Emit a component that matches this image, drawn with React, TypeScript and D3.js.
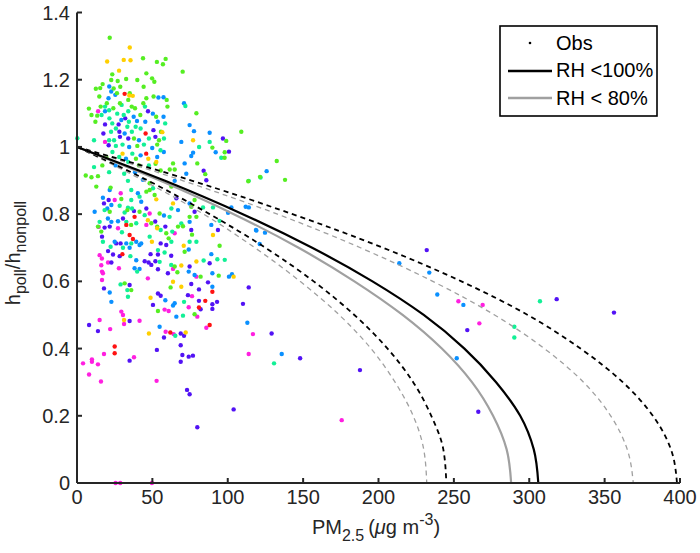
import React from "react";
import * as d3 from "d3";

// ---------- data ----------
const xTicks = [0, 50, 100, 150, 200, 250, 300, 350, 400];
const yTicks = [0, 0.2, 0.4, 0.6, 0.8, 1, 1.2, 1.4];

// observations grouped by colour, [PM2.5, h_poll/h_nonpoll]
const obsMagenta: number[][] = [
  [14,1.106],[18.6,1.015],[29,0.862],[25,0.842],[48.2,0.802],[27.2,0.758],[46,0.768],[15,0.678],[16.5,0.668],[16.1,0.648],
  [20.6,0.656],[27.8,0.639],[16.6,0.629],[17.2,0.624],[16.6,0.604],[47,0.609],[29.4,0.51],[30.5,0.5],[58.1,0.516],[60.8,0.512],
  [31.2,0.473],[41.5,0.483],[15,0.485],[22,0.458],[14.4,0.762],[58.8,0.45],[17.9,0.384],[9.9,0.368],[9.9,0.361],[4,0.356],
  [13.9,0.353],[37.8,0.374],[8,0.323],[15.9,0.302],[52.8,0.304],[25.6,0],[28.7,0],[49.7,0],[64.8,0.743],[63.7,0.637],
  [79.2,0.614],[76.3,0.556],[74.1,0.523],[79.8,0.495],[85.8,0.462],[64.1,0.443],[116.7,0.443],[113.9,0.384],[175.6,0.187],
  [253,0.541],[269.1,0.53],[266.9,0.475],
];
const obsPurple: number[][] = [
  [47.1,1.106],[32,1.085],[18.6,1.067],[27.6,1.067],[17.5,1.04],[28.1,1.045],[50.7,1.05],[28.5,1.03],[34,1.025],[52,1.03],[21,1.005],
  [21,0.842],[17.9,0.832],[46,0.817],[37.8,0.809],[30.5,0.787],[51.9,0.778],[21.7,0.763],[18.3,0.76],[58.6,0.763],[16.6,0.733],
  [26,0.713],[28.9,0.713],[55.5,0.713],[59.2,0.708],[20.6,0.69],[23.9,0.68],[28.3,0.675],[48.8,0.681],[53.7,0.68],[62.5,0.676],
  [22.8,0.656],[44.9,0.66],[47.5,0.656],[52,0.66],[49.3,0.649],[53.7,0.636],[60.3,0.624],[17.9,0.579],[34.9,0.589],[53.7,0.564],
  [55.5,0.557],[50.4,0.53],[34.9,0.482],[8,0.47],[13.9,0.452],[57.7,0.433],[34.9,0.364],[53,0.396],
  [96.8,1.025],[84,0.929],[85.8,0.901],[65.9,0.847],[78,0.807],[75.8,0.753],[93.5,0.753],[100.8,0.986],
  [74.7,0.644],[88,0.654],[75.8,0.592],[86.9,0.597],[80.9,0.576],[113.9,0.582],[73.6,0.559],[80.9,0.542],[92.9,0.539],[89.8,0.532],
  [82,0.517],[89.8,0.518],[110.1,0.533],[68.8,0.445],[71,0.438],[68.8,0.41],[69.9,0.381],[74.1,0.376],[76.9,0.379],[68.8,0.361],
  [73,0.277],[74.7,0.264],[103.9,0.219],[79.8,0.166],[148,0.371],[129.1,0.445],[232,0.693],[258.9,0.455],[318.2,0.547],
  [356.2,0.507],[187.7,0.336],[266.2,0.212],
];
const obsBlue: number[][] = [
  [21.4,1.18],[22.7,1.165],[25.4,1.155],[54,1.147],[57.4,1.148],[20.9,1.145],[18.6,1.106],[50.3,1.099],[37.6,1.09],[29.4,1.08],
  [39.8,1.077],[45.3,1.075],[53.6,1.075],[57.4,1.09],[31.6,1.04],[41.1,1.02],[34.6,1.0],[49.9,0.997],[57.6,0.985],[42.2,0.975],
  [32.5,0.965],[53.2,0.97],[25.6,0.945],[38.5,0.925],[43.7,0.902],[21.7,0.872],[40.4,0.862],[17.2,0.849],[42.6,0.837],[22.8,0.827],
  [11.7,0.807],[20.1,0.817],[57.7,0.796],[20.5,0.787],[22.8,0.777],[27.2,0.779],[25,0.718],[32.7,0.713],[39.3,0.718],[41.5,0.708],
  [42.6,0.713],[34.9,0.7],[39.3,0.663],[38.2,0.639],[41.5,0.637],[21.7,0.567],[22.8,0.539],[58.6,0.544],[54.8,0.465],
  [71,1.13],[74.7,1.065],[77.6,1.047],[88,1.042],[69.2,1.015],[77,0.983],[75.8,0.973],[92,0.984],[71.4,0.951],[72.5,0.92],
  [64.8,0.899],[67,0.812],[74.7,0.832],[74.7,0.777],[89.1,0.768],[100.2,0.804],[111.9,0.822],[102.4,0.82],[114,0.82],[74.1,0.695],
  [89.1,0.681],[119,0.751],[121.2,0.711],[74.1,0.629],[78,0.619],[89.8,0.624],[100.8,0.614],[102.8,0.621],[89.8,0.584],[64.8,0.535],
  [63.7,0.528],[65.9,0.495],[113,0.477],[135.8,0.384],[125.8,0.928],[118.7,0.753],[124.7,0.745],[213.8,0.654],[233.7,0.626],
  [239,0.561],[256.3,0.53],[251.9,0.371],
];
const obsCyan: number[][] = [
  [18.6,1.12],[29.6,1.125],[45.1,1.12],[21.3,1.109],[34,1.106],[16.3,1.095],[26.7,1.099],[31,1.095],[21.5,1.085],[23.4,1.07],
  [34.4,1.075],[58.5,1.07],[25.8,1.055],[33.4,1.06],[38.9,1.06],[42.2,1.055],[22.6,1.045],[36.4,1.045],[11.3,1.02],[21.3,1.02],
  [24.6,1.02],[47.7,1.025],[57.7,1.025],[25.8,1.003],[30.2,1.007],[44.4,1.007],[55.4,0.99],[23.5,0.985],[36.7,0.98],[28,0.97],
  [11.3,0.94],[34,0.955],[47.7,0.945],[21.3,0.925],[31.3,0.92],[0.2,1.026],[33.8,0.899],[50.4,0.877],[36,0.872],[41.5,0.852],
  [36,0.842],[28.3,0.825],[33.8,0.819],[36.5,0.817],[18.3,0.812],[31.6,0.805],[44.9,0.797],[61.4,0.792],[15,0.777],[32.7,0.777],
  [39.3,0.773],[55.5,0.753],[29.8,0.746],[48.2,0.733],[17.2,0.718],[36,0.713],[22.3,0.703],[30.5,0.7],[53.7,0.693],[35.4,0.675],
  [58.1,0.686],[54.8,0.658],[62.5,0.649],[39.9,0.629],[28.9,0.591],[33.4,0.574],[33.8,0.554],
  [71.9,1.122],[88,1.015],[81,1.0],[95.7,0.968],[113.9,0.899],[121.8,0.909],[62.6,0.817],[83.6,0.82],[69.2,0.772],[63.2,0.748],
  [94.6,0.78],[90.2,0.82],[62.6,0.718],[74.7,0.718],[79.2,0.718],[84,0.662],[93.1,0.666],[98,0.664],[71,0.539],[70.3,0.498],
  [65.2,0.438],[130.7,0.356],[307.1,0.541],[290.1,0.465],[290.1,0.433],
];
const obsGreen: number[][] = [
  [21.7,1.325],[43.8,1.264],[53,1.253],[58.8,1.262],[57,1.246],[46,1.219],[49.8,1.204],[40,1.199],[23.4,1.216],[22.7,1.199],
  [27,1.196],[32.6,1.202],[17,1.187],[15.4,1.175],[12.5,1.173],[24.3,1.174],[28.7,1.179],[44.2,1.179],[51.3,1.194],[26.5,1.16],
  [50.8,1.15],[46,1.145],[14.8,1.15],[19.8,1.13],[34,1.14],[28.5,1.13],[7.9,1.114],[15.7,1.12],[24.1,1.115],[36.3,1.12],
  [38.5,1.115],[59.5,1.14],[60,1.12],[9.6,1.095],[13.4,1.093],[42,1.095],[12.2,1.075],[52.5,1.09],[55.7,1.045],[37.8,1.025],
  [54.4,1.02],[40,1.003],[53.2,1.007],[19.5,0.97],[39.1,0.965],[5.8,0.915],[16.8,0.945],[41.1,0.945],[52.1,0.95],[55.5,0.93],
  [9.6,0.91],[70.1,1.224],[35,1.16],[44,1.13],[13.9,0.913],[48.2,0.892],[22.3,0.879],[12.8,0.882],[46,0.867],[48.2,0.872],
  [51.5,0.857],[29.4,0.845],[21.7,0.807],[41.5,0.807],[33.4,0.812],[54.8,0.802],[35.9,0.768],[49.3,0.773],[53.2,0.763],[13.9,0.763],
  [16.1,0.748],[59.2,0.743],[60.8,0.728],[31.6,0.594],[36,0.574],[53.7,0.512],[79.2,1.1],[99,1.018],[109,1.045],[89.8,0.998],
  [98,0.984],[97.9,0.968],[63.7,0.951],[79.8,0.951],[61.5,0.933],[64.8,0.933],[85.1,0.919],[62.6,0.882],[78,0.842],[75.8,0.822],
  [79.2,0.792],[74.7,0.792],[67,0.763],[76.3,0.739],[70.3,0.764],[94.6,0.706],[71.4,0.688],[64.8,0.644],[66.6,0.627],[82,0.614],
  [94,0.617],[62.1,0.582],[78,0.502],[132.5,0.958],[138,0.902],[121.4,0.911],[113.6,0.898],
];
const obsYellow: number[][] = [
  [35,1.296],[20,1.254],[31,1.259],[35.5,1.258],[27.9,1.227],[34.7,1.153],[37,1.152],[56.6,1.044],[30.2,0.98],[47.3,0.965],
  [52.6,0.955],[52.6,0.844],[47,0.782],[53.2,0.758],[49.7,0.718],[48.8,0.551],[31.2,0.485],[47.7,0.445],[77,1.02],[63.7,0.832],
  [90.2,0.738],[70.8,0.706],[69.2,0.647],[79.2,0.659],[103.9,0.614],[63.7,0.599],[69.2,0.584],[72.1,0.448],
];
const obsRed: number[][] = [
  [31.6,1.158],[45.5,1.04],[45.9,0.98],[38.2,0.792],[32.7,0.768],[34.9,0.738],[37.1,0.726],[30.1,0.681],[61.9,0.448],[25,0.406],
  [25,0.386],[89.8,0.569],[85.1,0.542],[80.9,0.522],[88,0.47],
];

// model curves: PM2.5 at which each curve reaches the given h level
const curveLevels = [1, 0.9, 0.8, 0.7, 0.6, 0.5, 0.4, 0.3, 0.2, 0.1, 0];
const rh100Mid = [0, 58, 110, 156, 196, 230, 257, 278, 294, 303, 306];
const rh100Low = [0, 47, 88, 125, 157, 184, 206, 223, 235, 243, 245];
const rh100High = [0, 76, 143, 203, 255, 299, 334, 362, 382, 394, 398];
const rh80Mid = [0, 55, 104, 147, 184, 216, 242, 262, 276, 285, 288];
const rh80Low = [0, 44, 84, 118, 148, 174, 195, 211, 223, 230, 232];
const rh80High = [0, 70, 133, 188, 236, 277, 310, 336, 354, 365, 369];

const legendLabels = ["Obs", "RH <100%", "RH < 80%"];

// ---------- layout ----------
const W = 700, H = 553;
const FONT = "'Liberation Sans', Arial, Helvetica, sans-serif";
const TXT = "#262626";

const x = d3.scaleLinear().domain([0, 400]).range([77, 680]);
const y = d3.scaleLinear().domain([0, 1.4]).range([483, 12.5]);

const groups: { pts: number[][]; color: string }[] = [
  { pts: obsMagenta, color: "#ff1fe0" },
  { pts: obsPurple, color: "#5212f5" },
  { pts: obsBlue, color: "#0a90ff" },
  { pts: obsCyan, color: "#12f096" },
  { pts: obsGreen, color: "#55ee22" },
  { pts: obsYellow, color: "#ffcf00" },
  { pts: obsRed, color: "#ff1212" },
];

const lineGen = d3
  .line<[number, number]>()
  .x((d) => x(d[0]))
  .y((d) => y(d[1]))
  .curve(d3.curveMonotoneY);

const toPts = (pm: number[]): [number, number][] => pm.map((v, i) => [v, curveLevels[i]]);

const curves = [
  { pm: rh80Low, stroke: "#a0a0a0", width: 1.3, dash: "5,4" },
  { pm: rh80High, stroke: "#a0a0a0", width: 1.3, dash: "5,4" },
  { pm: rh100Low, stroke: "#000", width: 1.8, dash: "5,4" },
  { pm: rh100High, stroke: "#000", width: 1.8, dash: "5,4" },
  { pm: rh80Mid, stroke: "#a0a0a0", width: 2.2, dash: "" },
  { pm: rh100Mid, stroke: "#000", width: 2.2, dash: "" },
];

export default function App() {
  return (
    <svg
      width={W}
      height={H}
      style={{ position: "absolute", left: 0, top: 0, background: "#fff" }}
      fontFamily={FONT}
    >
      <rect x={0} y={0} width={W} height={H} fill="#fff" />
      {/* observations */}
      {groups.map((g, gi) => (
        <g key={gi} fill={g.color}>
          {g.pts.map((p, i) => (
            <circle key={i} cx={x(p[0])} cy={y(p[1])} r={2.2} />
          ))}
        </g>
      ))}
      {/* curves */}
      {curves.map((c, i) => (
        <path
          key={i}
          d={lineGen(toPts(c.pm)) || ""}
          fill="none"
          stroke={c.stroke}
          strokeWidth={c.width}
          strokeDasharray={c.dash || undefined}
        />
      ))}
      {/* axes */}
      <g stroke={TXT} strokeWidth={2} fill="none">
        <line x1={x(0)} y1={y(0)} x2={x(0)} y2={y(1.4)} />
        <line x1={x(0)} y1={y(0)} x2={x(400)} y2={y(0)} />
        {yTicks.map((t) => (
          <line key={"yt" + t} x1={x(0)} x2={x(0) + 5} y1={y(t)} y2={y(t)} />
        ))}
        {xTicks.map((t) => (
          <line key={"xt" + t} x1={x(t)} x2={x(t)} y1={y(0)} y2={y(0) - 5} />
        ))}
      </g>
      <g fill={TXT} fontSize={20}>
        {yTicks.map((t) => (
          <text key={"yl" + t} x={x(0) - 7} y={y(t) + 7} textAnchor="end">
            {d3.format("~g")(t)}
          </text>
        ))}
        {xTicks.map((t) => (
          <text key={"xl" + t} x={x(t)} y={504} textAnchor="middle">
            {t}
          </text>
        ))}
      </g>
      {/* axis labels */}
      <text x={376} y={534} textAnchor="middle" fontSize={20} fill={TXT}>
        <tspan>PM</tspan>
        <tspan dy={7} fontSize={16}>2.5</tspan>
        <tspan dy={-7} dx={4}>(</tspan>
        <tspan fontStyle="italic">μ</tspan>
        <tspan>g m</tspan>
        <tspan dy={-9} fontSize={16}>-3</tspan>
        <tspan dy={9}>)</tspan>
      </text>
      <text
        transform="translate(20,253) rotate(-90)"
        textAnchor="middle"
        fontSize={20}
        fill={TXT}
      >
        <tspan>h</tspan>
        <tspan dy={6} fontSize={16}>poll</tspan>
        <tspan dy={-6}>/h</tspan>
        <tspan dy={6} fontSize={16}>nonpoll</tspan>
      </text>
      {/* legend */}
      <g>
        <rect x={500} y={26} width={157} height={90} fill="#fff" stroke="#000" strokeWidth={1.6} />
        <circle cx={530} cy={43} r={1.3} fill="#000" />
        <line x1={508} x2={552} y1={71} y2={71} stroke="#000" strokeWidth={2.4} />
        <line x1={508} x2={552} y1={98} y2={98} stroke="#a0a0a0" strokeWidth={2.4} />
        <g fontSize={20} fill="#000">
          <text x={556} y={50}>{legendLabels[0]}</text>
          <text x={556} y={77}>{legendLabels[1]}</text>
          <text x={556} y={105}>{legendLabels[2]}</text>
        </g>
      </g>
    </svg>
  );
}
